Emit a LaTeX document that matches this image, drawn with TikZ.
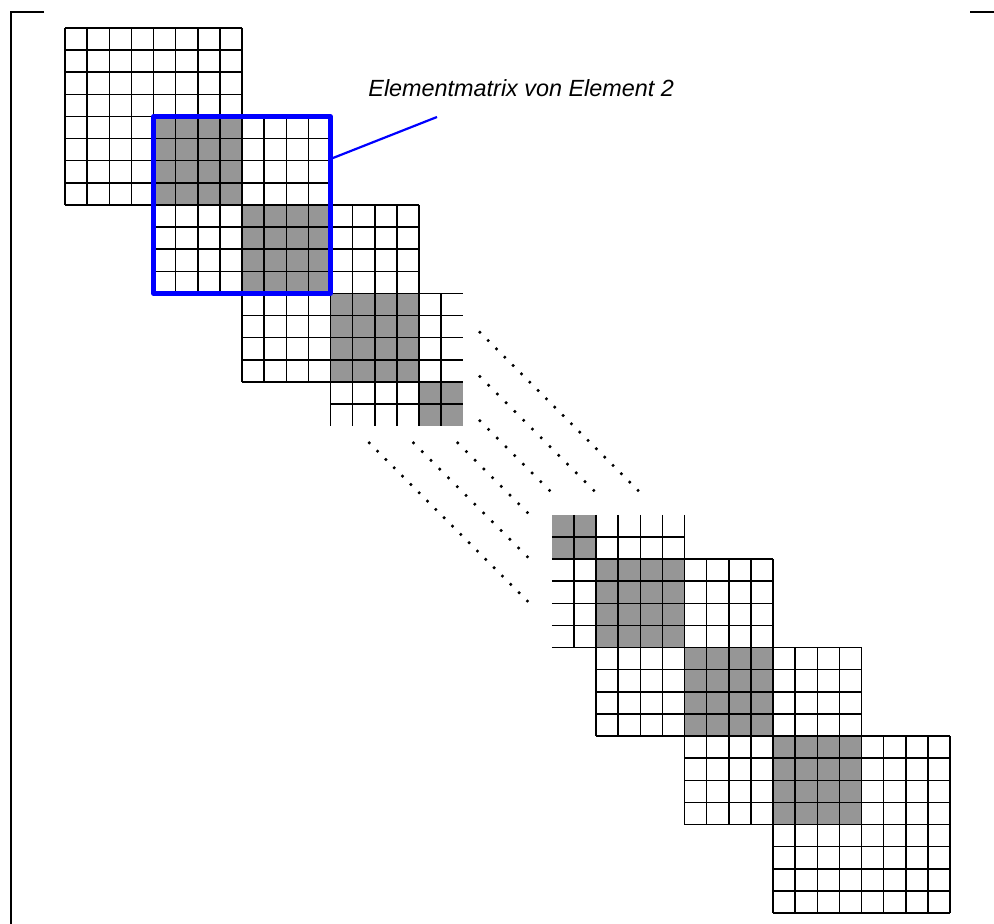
\documentclass[tikz,border=0pt]{standalone}
\usepackage{fontspec}
\newfontfamily\labfont{Liberation Sans}
\usetikzlibrary{calc}
\definecolor{cellgray}{RGB}{150,150,150}
\definecolor{elemblue}{RGB}{0,0,255}
\begin{document}
\begin{tikzpicture}[x=0.5pt,y=-0.5pt,
  gridline/.style={line width=0.75pt, black},
  bracketline/.style={line width=1pt, black},
  dotmark/.style={fill=black},
  elembox/.style={draw=elemblue, line width=2.1pt, line join=round, inner sep=0pt, outer sep=0pt,
    minimum width=88.5pt, minimum height=88.5pt},
  leader/.style={draw=elemblue, line width=1.1pt},
  labeltext/.style={inner sep=0pt, font=\labfont\itshape\fontsize{11.7}{14}\selectfont}]
\useasboundingbox (0,0) rectangle (994,924);
% brackets
\draw[bracketline] (44,12) -- (10.5,12) -- (10.5,924);
\draw[bracketline] (970,12) -- (994,12);
\begin{scope}[xshift=32.5pt, yshift=-14pt, x=11.0625pt, y=-11.0625pt]
  % gray overlaps
  \foreach \a/\b in {4/8, 8/12, 12/16, 16/18, 22/24, 24/28, 28/32, 32/36}
    \fill[cellgray] (\a,\a) rectangle (\b,\b);
  % full blocks
  \foreach \a in {0, 4, 8, 24, 28, 32} {
    \foreach \k in {0,...,8} {
      \draw[gridline] (\a+\k,\a) -- (\a+\k,\a+8);
      \draw[gridline] (\a,\a+\k) -- (\a+8,\a+\k);
    }
  }
  % truncated block (open right and bottom)
  \foreach \k in {12,...,17} {
    \draw[gridline] (\k,12) -- (\k,18);
    \draw[gridline] (12,\k) -- (18,\k);
  }
  % truncated block (open left and top)
  \foreach \k in {23,...,28} {
    \draw[gridline] (\k,22) -- (\k,28);
    \draw[gridline] (22,\k) -- (28,\k);
  }
  % element 2 frame
  \node[elembox, anchor=north west] (E2) at (4,4) {};
  % dotted continuation lines
  \foreach \ys/\xe/\n in {13.75/25.9/19, 15.75/23.9/13, 17.75/21.9/8} {
    \foreach \i in {0,...,\n} {
      \fill[dotmark] ($(18.75,\ys)!{\i/\n}!(\xe,20.9)$) circle[radius=0.85pt];
      \fill[dotmark] ($(\ys,18.75)!{\i/\n}!(20.9,\xe)$) circle[radius=0.85pt];
    }
  }
\end{scope}
% label and leader
\node[labeltext, anchor=base west] (lab) at (368,97) {Elementmatrix von Element 2};
\coordinate (tip) at (437,117);
\draw[leader] ($(E2.north east)!0.24!(E2.south east)$) -- (tip);
\end{tikzpicture}
\end{document}
